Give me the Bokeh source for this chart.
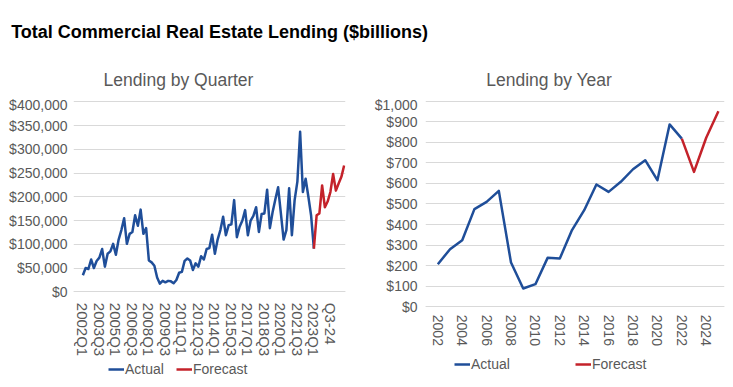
from bokeh.plotting import figure
from bokeh.models import Range1d, Label, Legend, LegendItem, FixedTicker, NumeralTickFormatter
from bokeh.layouts import column, row
from bokeh.embed import file_html
from bokeh.resources import INLINE

FONT = "Liberation Sans"
GRAY = "#595959"
GRID = "#d9d9d9"
BLUE = "#1f4e99"
RED = "#c4222a"

# ---------------- data ----------------
main_title = "Total Commercial Real Estate Lending ($billions)"
title_quarter = "Lending by Quarter"
title_year = "Lending by Year"

# quarterly categories 2002Q1 .. 2023Q1 (actual), Q2-23 .. Q4-25 (forecast)
quarters = [f"{y}Q{q}" for y in range(2002, 2024) for q in range(1, 5)][:85] + \
           ["Q2-23", "Q3-23", "Q4-23", "Q1-24", "Q2-24", "Q3-24", "Q4-24",
            "Q1-25", "Q2-25", "Q3-25", "Q4-25"]

# quarterly lending ($ millions), 2002Q1 .. 2023Q1
actual_q = [35000, 50000, 48000, 68000,
            50000, 65000, 72000, 90000,
            53000, 80000, 85000, 101000,
            78000, 110000, 130000, 155000,
            101000, 122000, 126000, 161000,
            139000, 173000, 122000, 134000,
            66000, 62000, 55000, 30000,
            17000, 23000, 20000, 23000,
            22000, 18000, 25000, 40000,
            42000, 65000, 70000, 66000,
            46000, 60000, 53000, 75000,
            68000, 90000, 92000, 120000,
            80000, 110000, 130000, 158000,
            119000, 140000, 142000, 193000,
            115000, 137000, 150000, 172000,
            119000, 150000, 160000, 178000,
            126000, 164000, 165000, 215000,
            134000, 168000, 195000, 220000,
            165000, 110000, 130000, 218000,
            119000, 193000, 232000, 337000,
            210000, 238000, 200000, 160000,
            91000]
# forecast, 2023Q1 .. Q4-25
forecast_q = [91000, 161000, 165000, 224000, 178000, 190000, 210000,
              248000, 213000, 228000, 242000, 266000]

quarter_ticks = [0, 6, 12, 18, 24, 30, 36, 42, 48, 54, 60, 66, 72, 78, 84, 90]
q_yticks = [0, 50000, 100000, 150000, 200000, 250000, 300000, 350000, 400000]

years_actual = [2002, 2003, 2004, 2005, 2006, 2007, 2008, 2009, 2010, 2011, 2012,
                2013, 2014, 2015, 2016, 2017, 2018, 2019, 2020, 2021, 2022]
actual_y = [207, 280, 324, 475, 510, 564, 215, 89, 110, 238, 235,
            373, 470, 595, 559, 608, 669, 713, 616, 887, 818]
years_forecast = [2022, 2023, 2024, 2025]
forecast_y = [818, 656, 822, 951]

year_ticks = [2002, 2004, 2006, 2008, 2010, 2012, 2014, 2016, 2018, 2020, 2022, 2024]
y_yticks = [0, 100, 200, 300, 400, 500, 600, 700, 800, 900, 1000]

# ---------------- title strip ----------------
tf = figure(width=730, height=96, x_range=Range1d(0, 730), y_range=Range1d(96, 0),
            output_backend="svg", toolbar_location=None, min_border=0,
            x_axis_location=None, y_axis_location=None, frame_align=False)
tf.grid.visible = False
tf.outline_line_color = None
tf.add_layout(Label(x=10.7, y=31.3, text=main_title, text_font=FONT, text_font_size="18px",
                    text_font_style="bold", text_color="#000000", text_baseline="alphabetic"))
tf.add_layout(Label(x=178, y=79.7, text=title_quarter, text_font=FONT,
                    text_font_size="17.5px", text_color=GRAY, text_align="center",
                    text_baseline="alphabetic"))
tf.add_layout(Label(x=548.7, y=79.7, text=title_year, text_font=FONT,
                    text_font_size="17.5px", text_color=GRAY, text_align="center",
                    text_baseline="alphabetic"))


def style(p, standoff_x, standoff_y, xfont):
    p.outline_line_color = None
    p.background_fill_color = None
    p.border_fill_color = None
    p.xgrid.visible = False
    p.ygrid.grid_line_color = GRID
    p.ygrid.grid_line_width = 1
    for ax in (p.xaxis[0], p.yaxis[0]):
        ax.major_tick_line_color = None
        ax.minor_tick_line_color = None
        ax.major_tick_out = 0
        ax.major_tick_in = 0
        ax.minor_tick_out = 0
        ax.minor_tick_in = 0
        ax.major_label_text_font = FONT
        ax.major_label_text_font_size = "14px"
        ax.major_label_text_color = GRAY
    p.yaxis[0].axis_line_color = None
    p.yaxis[0].major_label_standoff = standoff_y
    p.xaxis[0].axis_line_color = GRID
    p.xaxis[0].fixed_location = 0
    p.xaxis[0].major_label_orientation = "vertical"
    p.xaxis[0].major_label_standoff = standoff_x
    p.xaxis[0].major_label_text_font_size = xfont


def make_legend(r_act, r_fc, x_off, y_off, spacing):
    return Legend(items=[LegendItem(label="Actual", renderers=[r_act]),
                         LegendItem(label="Forecast", renderers=[r_fc])],
                  location=(x_off, y_off), orientation="horizontal", glyph_width=16,
                  glyph_height=14, label_height=14, label_standoff=1, spacing=spacing,
                  padding=0, margin=0, border_line_color=None,
                  background_fill_alpha=0, label_text_font=FONT,
                  label_text_font_size="14px", label_text_color=GRAY)


# ---------------- quarterly chart ----------------
pq = figure(width=364, height=281, x_range=Range1d(-3.41, 95.5),
            y_range=Range1d(-180421, 402737),
            output_backend="svg", toolbar_location=None,
            min_border_left=73, min_border_right=19, min_border_top=4, min_border_bottom=0)
style(pq, 11, 6, "15px")
pq.yaxis[0].ticker = FixedTicker(ticks=q_yticks)
pq.yaxis[0].formatter = NumeralTickFormatter(format="$0,0")
pq.xaxis[0].ticker = FixedTicker(ticks=quarter_ticks)
pq.xaxis[0].major_label_overrides = {t: quarters[t] for t in quarter_ticks}

rqa = pq.line(list(range(len(actual_q))), actual_q, line_color=BLUE, line_width=2.5,
              line_join="round")
rqf = pq.line(list(range(84, 84 + len(forecast_q))), forecast_q, line_color=RED,
              line_width=2.5, line_join="round")
pq.add_layout(make_legend(rqa, rqf, 35, 0, 12))

# ---------------- yearly chart ----------------
py = figure(width=367, height=281, x_range=Range1d(2000.99, 2025.5),
            y_range=Range1d(-343.9, 1003.4),
            output_backend="svg", toolbar_location=None,
            min_border_left=61, min_border_right=7, min_border_top=4, min_border_bottom=0)
style(py, 8, 8, "14px")
py.yaxis[0].ticker = FixedTicker(ticks=y_yticks)
py.yaxis[0].formatter = NumeralTickFormatter(format="$0,0")
py.xaxis[0].ticker = FixedTicker(ticks=year_ticks)

rya = py.line(years_actual, actual_y, line_color=BLUE, line_width=2.5, line_join="round")
ryf = py.line(years_forecast, forecast_y, line_color=RED, line_width=2.5, line_join="round")
py.add_layout(make_legend(rya, ryf, 29, 5, 65))

layout = column(tf, row(pq, py))
open("out.html", "w").write(file_html(layout, INLINE))
